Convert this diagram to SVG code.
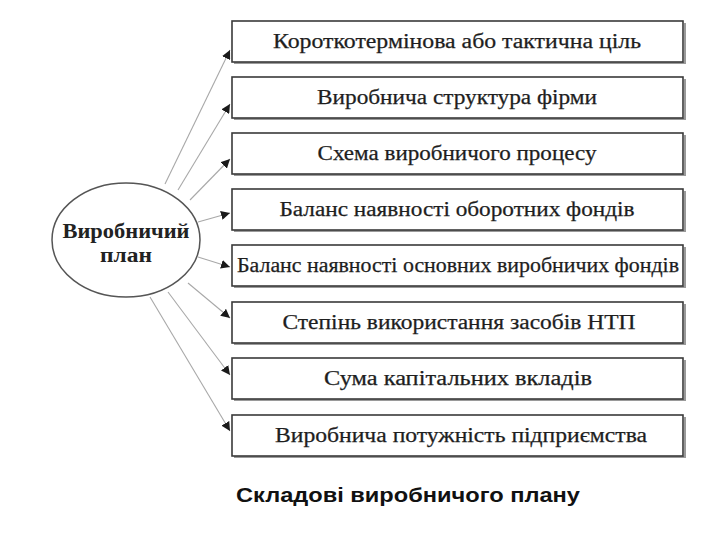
<svg xmlns="http://www.w3.org/2000/svg" width="720" height="540" viewBox="0 0 720 540">
<style>
.box{fill:#fff;stroke:#3a3a3a;stroke-width:1.6}
.shadow{fill:none;stroke:#9a9a9a;stroke-width:2}
.bt{font-family:"Liberation Serif","DejaVu Serif",serif;font-size:20px;fill:#1e1e1e;stroke:#1e1e1e;stroke-width:0.25;text-anchor:middle}
.et{font-family:"Liberation Serif","DejaVu Serif",serif;font-size:20px;font-weight:bold;fill:#222;text-anchor:middle}
.conn{stroke:#a8a8a8;stroke-width:1.1;fill:none;marker-end:url(#ah)}
.cap{font-family:"Liberation Sans","Arial",sans-serif;font-size:20px;font-weight:bold;fill:#111;text-anchor:middle}
</style>
<defs>
<marker id="ah" viewBox="0 0 10 10" refX="10" refY="5" markerWidth="9" markerHeight="9" markerUnits="userSpaceOnUse" orient="auto">
<path d="M0,0 L10,5 L0,10 z" fill="#1a1a1a"/>
</marker>
</defs>
<rect width="720" height="540" fill="#fff"/>
<g id="connectors">
<line class="conn" x1="165" y1="184" x2="230" y2="50"/>
<line class="conn" x1="178" y1="190" x2="230" y2="104"/>
<line class="conn" x1="190" y1="200" x2="230" y2="159"/>
<line class="conn" x1="198" y1="222" x2="230" y2="213"/>
<line class="conn" x1="198" y1="257" x2="230" y2="267"/>
<line class="conn" x1="188" y1="283" x2="230" y2="318"/>
<line class="conn" x1="168" y1="292" x2="230" y2="375"/>
<line class="conn" x1="150" y1="297" x2="230" y2="431"/>
</g>
<g id="center">
<ellipse cx="126" cy="240" rx="74" ry="57" fill="#fff" stroke="#555" stroke-width="1.5"/>
<text class="et" x="126" y="238" textLength="127" lengthAdjust="spacingAndGlyphs">Виробничий</text>
<text class="et" x="126" y="262" textLength="52" lengthAdjust="spacingAndGlyphs">план</text>
</g>
<g id="n1"><path class="shadow" d="M234,63 H685 V23"/><rect class="box" x="232" y="21" width="451" height="41"/><text class="bt" x="457" y="48" textLength="368" lengthAdjust="spacingAndGlyphs">Короткотермінова або тактична ціль</text></g>
<g id="n2"><path class="shadow" d="M234,119 H685 V79"/><rect class="box" x="232" y="77" width="451" height="41"/><text class="bt" x="457" y="104" textLength="280" lengthAdjust="spacingAndGlyphs">Виробнича структура фірми</text></g>
<g id="n3"><path class="shadow" d="M234,175 H685 V135"/><rect class="box" x="232" y="133" width="451" height="41"/><text class="bt" x="457" y="160" textLength="279" lengthAdjust="spacingAndGlyphs">Схема виробничого процесу</text></g>
<g id="n4"><path class="shadow" d="M234,231 H685 V191"/><rect class="box" x="232" y="189" width="451" height="41"/><text class="bt" x="457" y="216" textLength="355" lengthAdjust="spacingAndGlyphs">Баланс наявності оборотних фондів</text></g>
<g id="n5"><path class="shadow" d="M234,287 H685 V247"/><rect class="box" x="232" y="245" width="451" height="41"/><text class="bt" x="458" y="272" textLength="442" lengthAdjust="spacingAndGlyphs">Баланс наявності основних виробничих фондів</text></g>
<g id="n6"><path class="shadow" d="M234,344 H685 V304"/><rect class="box" x="232" y="302" width="451" height="41"/><text class="bt" x="459" y="329" textLength="353" lengthAdjust="spacingAndGlyphs">Степінь використання засобів НТП</text></g>
<g id="n7"><path class="shadow" d="M234,400 H685 V360"/><rect class="box" x="232" y="358" width="451" height="41"/><text class="bt" x="458" y="385" textLength="268" lengthAdjust="spacingAndGlyphs">Сума капітальних вкладів</text></g>
<g id="n8"><path class="shadow" d="M234,457 H685 V417"/><rect class="box" x="232" y="415" width="451" height="41"/><text class="bt" x="461" y="442" textLength="372" lengthAdjust="spacingAndGlyphs">Виробнича потужність підприємства</text></g>
<text class="cap" x="408" y="502" textLength="344" lengthAdjust="spacingAndGlyphs">Складові виробничого плану</text>
</svg>
